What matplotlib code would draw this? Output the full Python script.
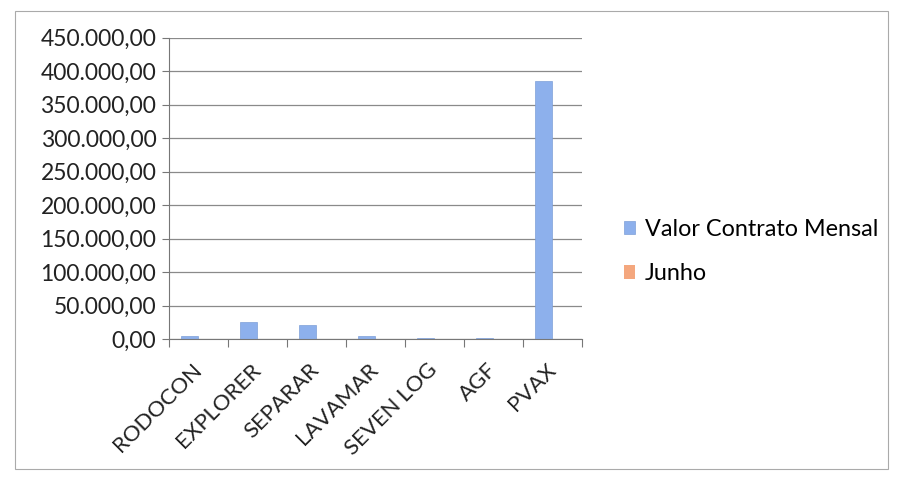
import matplotlib
matplotlib.use("Agg")
import matplotlib.pyplot as plt
import numpy as np
from matplotlib.patches import Rectangle
from matplotlib.ticker import FuncFormatter

categories = ["RODOCON", "EXPLORER", "SEPARAR", "LAVAMAR", "SEVEN LOG", "AGF", "PVAX"]
valor_contrato = [5000, 25000, 21000, 4000, 1500, 1500, 385000]
junho = [0, 0, 0, 0, 0, 0, 0]

plt.rcParams['font.family'] = ['Lato', 'DejaVu Sans']

fig = plt.figure(figsize=(8.98, 4.79), dpi=100)
ax = fig.add_axes([0.188, 0.292, 0.460, 0.629])

x = np.arange(len(categories))
w = 0.29
blue = "#8DB0EC"
orange = "#F4A77E"
ax.bar(x - w/2, valor_contrato, w, color=blue, edgecolor="#7E9FD8", linewidth=0.5, label="Valor Contrato Mensal")
ax.bar(x + w/2, junho, w, color=orange, label="Junho")

ax.set_xlim(-0.5, len(categories) - 0.5)
ax.set_ylim(0, 450000)
ax.set_yticks(np.arange(0, 450001, 50000))

def fmt(v, pos):
    s = f"{v:,.2f}"
    return s.replace(",", "X").replace(".", ",").replace("X", ".")
ax.yaxis.set_major_formatter(FuncFormatter(fmt))
ax.yaxis.grid(True, color="#8a8a8a", linewidth=0.9)
ax.set_axisbelow(True)

for s in ["top", "right"]:
    ax.spines[s].set_visible(False)
ax.spines["left"].set_color("#777777")
ax.spines["bottom"].set_color("#777777")

ax.set_xticks(np.arange(-0.5, len(categories), 1), minor=False)
ax.set_xticklabels([])
ax.set_xticks(x, minor=True)
ax.set_xticklabels(categories, minor=True, rotation=45, ha="right", va="center",
                   rotation_mode="anchor", fontsize=16, color="#222222")
ax.tick_params(axis="x", which="minor", length=0, pad=20)
ax.tick_params(axis="x", which="major", length=6, color="#777777", direction="out")
ax.tick_params(axis="y", length=5, color="#777777", labelsize=16.5, labelcolor="#222222", pad=4)

ax.legend(loc="center left", bbox_to_anchor=(1.05, 0.29), frameon=False, fontsize=16.8,
          handlelength=0.5, handleheight=0.5, labelspacing=1.0, handletextpad=0.4)

fig.patches.append(Rectangle((0.017, 0.02), 0.972, 0.958, transform=fig.transFigure,
                             fill=False, edgecolor="#aaaaaa", linewidth=0.8))

fig.savefig("out.png", dpi=100)
